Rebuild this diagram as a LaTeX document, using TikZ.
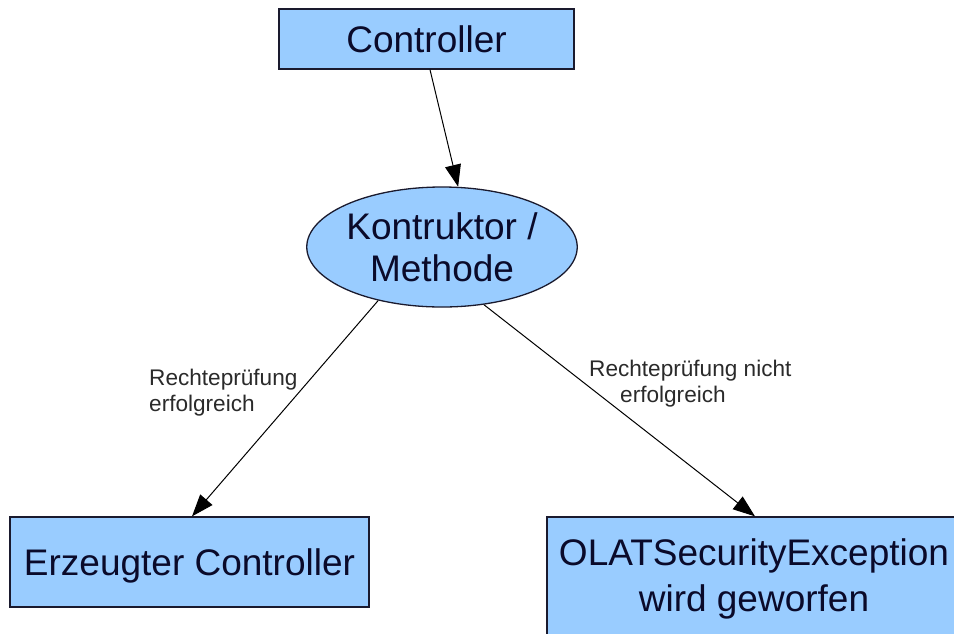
\documentclass[tikz,border=0pt]{standalone}
\usepackage{fontspec}
\setmainfont{Liberation Sans}
\usetikzlibrary{shapes.geometric,arrows.meta}
\definecolor{boxfill}{HTML}{99CCFF}
\definecolor{boxline}{HTML}{1A1A2E}
\definecolor{boxtext}{HTML}{0A0A2A}
\definecolor{labeltext}{HTML}{2A2A2A}

\begin{document}
\begin{tikzpicture}[x=1pt,y=-1pt,
  block/.style={draw=boxline, line width=1.3pt, fill=boxfill, text=boxtext,
    inner sep=0pt, align=center, font=\fontsize{37}{46}\selectfont},
  oval/.style={ellipse, draw=boxline, line width=1.3pt, fill=boxfill, text=boxtext,
    inner sep=0pt, align=center, font=\fontsize{37}{42}\selectfont,
    minimum width=270pt, minimum height=120pt},
  lbl/.style={text=labeltext, inner sep=0pt, align=left,
    font=\fontsize{22.6}{26.5}\selectfont},
  conn/.style={draw=black, line width=1pt,
    -{Triangle[length=22pt,width=16pt]}}]

% page area
\fill[white] (0,0) rectangle (954,633);
\clip (0,0) rectangle (954,633);

% blocks
\node[block, minimum width=295pt, minimum height=60pt] (ctrl) at (426.5,39) {Controller};
\node[oval] (meth) at (442,247) {Kontruktor /\\Methode};
\node[block, minimum width=359pt, minimum height=90pt, text depth=0pt] (made) at (189.5,562) {Erzeugter Controller};
\node[block, minimum width=414pt, minimum height=123pt] (exc) at (754,578.5) {OLATSecurityException\\wird geworfen};

% connectors
\draw[conn] ([xshift=3.5pt]ctrl.south) -- (meth.75);
\draw[conn] (meth.220) -- ([xshift=2.5pt]made.north);
\draw[conn] (meth.306) -- ([xshift=1pt]exc.north);

% connector labels
\node[lbl, anchor=north west] (okl) at (149,368.5) {Rechteprüfung\\erfolgreich};
\node[lbl, anchor=north west] (faill) at (589,359.5) {Rechteprüfung nicht\\\hspace*{31pt}erfolgreich};
\end{tikzpicture}
\end{document}
